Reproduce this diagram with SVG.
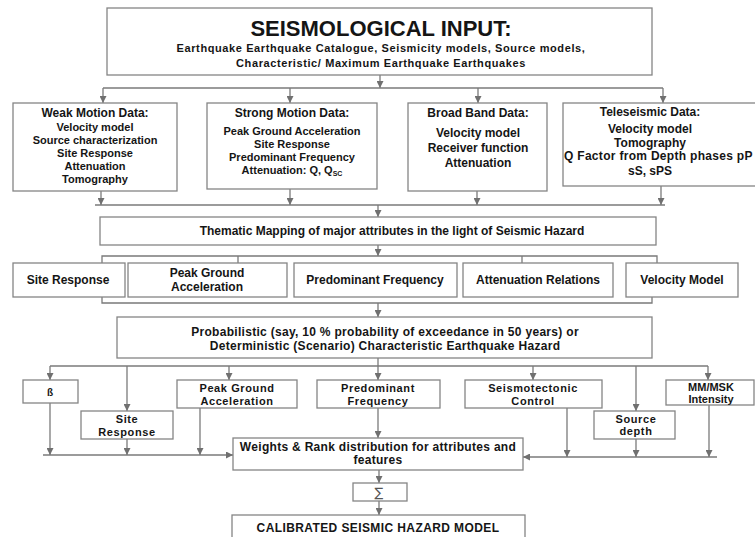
<svg xmlns="http://www.w3.org/2000/svg" width="755" height="537" viewBox="0 0 755 537">
<defs>
<style>
.box{fill:#fff;stroke:#858585;stroke-width:1.3}
.t{font-family:"Liberation Sans",Arial,sans-serif;font-weight:bold;fill:#151515;text-anchor:middle}
.s11{font-size:11px}
.s12{font-size:12px}
.n{font-size:11px;letter-spacing:0.6px}
.c{stroke:#7a7a7a;stroke-width:1.3;fill:none}
</style>
<marker id="a" markerWidth="7" markerHeight="7" refX="7" refY="3.5" orient="auto" markerUnits="userSpaceOnUse"><path d="M0,0 L7,3.5 L0,7 Z" fill="#707070"/></marker>
</defs>
<rect width="755" height="537" fill="#fff"/>

<g id="connectors">
<path class="c" d="M380,75 V88" marker-end="url(#a)"/>
<path class="c" d="M103,88 H663"/>
<path class="c" d="M103,88 V103" marker-end="url(#a)"/>
<path class="c" d="M290,88 V103" marker-end="url(#a)"/>
<path class="c" d="M478,88 V103" marker-end="url(#a)"/>
<path class="c" d="M663,88 V103" marker-end="url(#a)"/>

<path class="c" d="M95,205 H665"/>
<path class="c" d="M101,191 V205" marker-end="url(#a)"/>
<path class="c" d="M290,189 V205" marker-end="url(#a)"/>
<path class="c" d="M477,191 V205" marker-end="url(#a)"/>
<path class="c" d="M661,186 V205" marker-end="url(#a)"/>
<path class="c" d="M378,205 V217" marker-end="url(#a)"/>

<path class="c" d="M378,245 V256" marker-end="url(#a)"/>
<path class="c" d="M102,263 V256 H657 V263"/>
<path class="c" d="M238,256 V263"/>
<path class="c" d="M522,256 V263"/>
<path class="c" d="M102,297 V303 H652 V297"/>
<path class="c" d="M378,303 V317" marker-end="url(#a)"/>

<path class="c" d="M378,358 V366"/>
<path class="c" d="M50,366 H708"/>
<path class="c" d="M50,366 V380" marker-end="url(#a)"/>
<path class="c" d="M127,366 V411" marker-end="url(#a)"/>
<path class="c" d="M229,366 V380" marker-end="url(#a)"/>
<path class="c" d="M378,366 V380" marker-end="url(#a)"/>
<path class="c" d="M533,366 V380" marker-end="url(#a)"/>
<path class="c" d="M636,366 V411" marker-end="url(#a)"/>
<path class="c" d="M708,366 V380" marker-end="url(#a)"/>

<path class="c" d="M43,455 H233" marker-end="url(#a)"/>
<path class="c" d="M50,403 V455" marker-end="url(#a)"/>
<path class="c" d="M127,439 V455" marker-end="url(#a)"/>
<path class="c" d="M200,408 V455" marker-end="url(#a)"/>
<path class="c" d="M717,457 H523" marker-end="url(#a)"/>
<path class="c" d="M567,408 V457" marker-end="url(#a)"/>
<path class="c" d="M636,439 V457" marker-end="url(#a)"/>
<path class="c" d="M709,405 V457" marker-end="url(#a)"/>
<path class="c" d="M378,408 V438" marker-end="url(#a)"/>
<path class="c" d="M379,470 V483" marker-end="url(#a)"/>
<path class="c" d="M379,501 V515" marker-end="url(#a)"/>
</g>

<g id="seismological-input">
<rect class="box" x="107" y="8" width="545" height="67"/>
<text class="t" x="381" y="36" style="font-size:22px">SEISMOLOGICAL INPUT:</text>
<text class="t s11" x="381" y="52" letter-spacing="0.6">Earthquake Earthquake Catalogue, Seismicity models, Source models,</text>
<text class="t s11" x="381" y="67" letter-spacing="0.6">Characteristic/ Maximum Earthquake Earthquakes</text>
</g>

<g id="weak-motion">
<rect class="box" x="13" y="103" width="164" height="88"/>
<text class="t s12" x="95" y="117">Weak Motion Data:</text>
<text class="t s11" x="95" y="131">Velocity model</text>
<text class="t s11" x="95" y="144">Source characterization</text>
<text class="t s11" x="95" y="157">Site Response</text>
<text class="t s11" x="95" y="170">Attenuation</text>
<text class="t s11" x="95" y="183">Tomography</text>
</g>

<g id="strong-motion">
<rect class="box" x="207" y="103" width="170" height="86"/>
<text class="t s12" x="292" y="117">Strong Motion Data:</text>
<text class="t s11" x="292" y="135">Peak Ground Acceleration</text>
<text class="t s11" x="292" y="148">Site Response</text>
<text class="t s11" x="292" y="161">Predominant Frequency</text>
<text class="t s11" x="292" y="174">Attenuation: Q, Q<tspan font-size="7" dy="2">SC</tspan></text>
</g>

<g id="broad-band">
<rect class="box" x="408" y="103" width="139" height="88"/>
<text class="t s12" x="478" y="117">Broad Band Data:</text>
<text class="t s12" x="478" y="137">Velocity model</text>
<text class="t s12" x="478" y="152">Receiver function</text>
<text class="t s12" x="478" y="167">Attenuation</text>
</g>

<g id="teleseismic">
<rect class="box" x="563" y="103" width="200" height="83"/>
<text class="t s12" x="650" y="116">Teleseismic Data:</text>
<text class="t s12" x="650" y="133">Velocity model</text>
<text class="t s12" x="650" y="146.5">Tomography</text>
<text class="t s12" x="564" y="160" style="text-anchor:start" letter-spacing="0.3">Q Factor from Depth phases pP</text>
<text class="t s12" x="650" y="175">sS, sPS</text>
</g>

<g id="thematic-mapping">
<rect class="box" x="100" y="217" width="556" height="28"/>
<text class="t s12" x="392" y="235">Thematic Mapping of major attributes in the light of Seismic Hazard</text>
</g>

<g id="site-response-1">
<rect class="box" x="13" y="263" width="112" height="34"/>
<text class="t s12" x="68" y="284">Site Response</text>
</g>
<g id="pga-1">
<rect class="box" x="128" y="263" width="159" height="34"/>
<text class="t s12" x="207" y="277">Peak Ground</text>
<text class="t s12" x="207" y="291">Acceleration</text>
</g>
<g id="predominant-frequency-1">
<rect class="box" x="294" y="263" width="163" height="34"/>
<text class="t s12" x="375" y="284">Predominant Frequency</text>
</g>
<g id="attenuation-relations">
<rect class="box" x="463" y="263" width="150" height="34"/>
<text class="t s12" x="538" y="284">Attenuation Relations</text>
</g>
<g id="velocity-model">
<rect class="box" x="626" y="263" width="112" height="34"/>
<text class="t s12" x="682" y="284">Velocity Model</text>
</g>

<g id="hazard">
<rect class="box" x="117" y="317" width="535" height="41"/>
<text class="t s12" x="385" y="336" letter-spacing="0.3">Probabilistic  (say, 10 % probability of exceedance in 50 years)  or</text>
<text class="t s12" x="385" y="350" letter-spacing="0.3">Deterministic (Scenario) Characteristic Earthquake Hazard</text>
</g>

<g id="beta">
<rect class="box" x="23" y="380" width="55" height="23"/>
<text class="t" x="50" y="396" style="font-size:10px">ß</text>
</g>
<g id="site-response-2">
<rect class="box" x="81" y="411" width="92" height="28"/>
<text class="t n" x="127" y="423">Site</text>
<text class="t n" x="127" y="435.5">Response</text>
</g>
<g id="pga-2">
<rect class="box" x="177" y="380" width="120" height="28"/>
<text class="t n" x="237" y="392">Peak Ground</text>
<text class="t n" x="237" y="405">Acceleration</text>
</g>
<g id="predominant-frequency-2">
<rect class="box" x="317" y="380" width="123" height="28"/>
<text class="t n" x="378" y="392">Predominant</text>
<text class="t n" x="378" y="404.5">Frequency</text>
</g>
<g id="seismotectonic">
<rect class="box" x="465" y="380" width="137" height="28"/>
<text class="t n" x="533" y="392">Seismotectonic</text>
<text class="t n" x="533" y="404.5">Control</text>
</g>
<g id="source-depth">
<rect class="box" x="594" y="411" width="81" height="28"/>
<text class="t n" x="636" y="423">Source</text>
<text class="t n" x="636" y="435">depth</text>
</g>
<g id="intensity">
<rect class="box" x="666" y="380" width="88" height="25"/>
<text class="t s11" x="711" y="391">MM/MSK</text>
<text class="t s11" x="711" y="403">Intensity</text>
</g>

<g id="weights">
<rect class="box" x="233" y="438" width="290" height="32"/>
<text class="t s12" x="378" y="451" letter-spacing="0.3">Weights &amp; Rank distribution for attributes and</text>
<text class="t s12" x="378" y="464" letter-spacing="0.3">features</text>
</g>

<g id="sum">
<rect class="box" x="353" y="483" width="54" height="18"/>
<text x="379" y="497" style="font-family:'DejaVu Sans',sans-serif;font-size:13px;fill:#555;text-anchor:middle">∑</text>
</g>

<g id="calibrated">
<rect class="box" x="232" y="515" width="293" height="30"/>
<text class="t s12" x="378" y="532" letter-spacing="0.4">CALIBRATED SEISMIC HAZARD MODEL</text>
</g>
</svg>
